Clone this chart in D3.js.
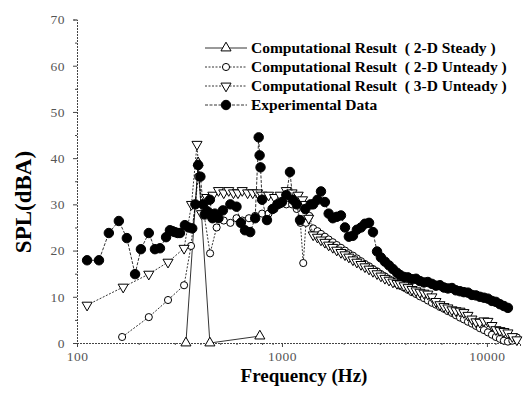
<!DOCTYPE html>
<html>
<head>
<meta charset="utf-8">
<script src="https://cdn.jsdelivr.net/npm/d3@7"></script>
<style>
  body { margin: 0; background: #fff; }
  svg { display: block; }
  .legend-text { white-space: pre; }
</style>
</head>
<body>
<svg id="chart" width="524" height="399"></svg>
<script>
// ---- data ----
const yTicks = [0, 10, 20, 30, 40, 50, 60, 70];
const yMinorTicks = [5, 15, 25, 35, 45, 55, 65];
const xTicks = [100, 1000, 10000];
const xMinorTicks = [200, 300, 400, 500, 600, 700, 800, 900, 2000, 3000, 4000, 5000, 6000, 7000, 8000, 9000, 11000, 12000, 13000, 14000];

const seriesNames = [
  'Computational Result  ( 2-D Steady )',
  'Computational Result  ( 2-D Unteady )',
  'Computational Result  ( 3-D Unteady )',
  'Experimental Data'
];

// 2-D steady
const steadyFreq = [340, 390, 445, 780];
const steadyVal = [0, 39, 0, 1.5];

// low-frequency parts
const lowExpFreq = [112, 128, 143, 160, 175, 192, 205, 224, 240, 254, 272, 284, 292, 300, 310, 318, 336, 350, 365, 378,
  390, 400, 412, 420, 432, 445, 458, 470, 490, 515, 560, 600, 630, 660, 700, 740, 770, 778, 786, 800,
  845, 900, 950, 1000, 1050, 1094, 1130, 1180, 1225, 1300, 1380];
const lowExpVal = [17.9, 17.9, 23.8, 26.4, 22.7, 14.9, 20.3, 23.8, 20.3, 20.5, 22.9, 24.4, 24.2, 24, 23.8, 23.8, 25.5, 25, 24.8, 30,
  38.5, 36, 30, 27.8, 28.5, 31, 27, 28, 27, 28.7, 30, 29.5, 26, 24.4, 24, 27, 44.5, 40.6, 38, 31,
  26.6, 29, 30, 30.5, 32, 37, 31, 30, 26.6, 29, 30];

const low2DFreq = [166, 224, 278, 333, 360, 390, 446, 480, 520, 560, 600, 640, 690, 740, 800, 860, 920, 980, 1050, 1120,
  1180, 1230, 1270, 1310, 1360];
const low2DVal = [1.3, 5.6, 9.3, 12.5, 21, 36, 19.4, 25, 26.5, 26, 27, 26.5, 27, 27.5, 28, 28, 29, 30, 30, 30,
  29, 26, 17.3, 26, 27.5];

const low3DFreq = [112, 168, 224, 278, 333, 362, 385, 405, 430, 460, 490, 520, 550, 580, 610, 640, 680, 720, 760, 800,
  860, 920, 980, 1050, 1120, 1200, 1260, 1300, 1350];
const low3DVal = [8.2, 12.1, 14.9, 17.5, 20.5, 30, 43, 28, 31.5, 32, 33, 32.5, 33, 32.5, 32.5, 33, 32.5, 32.5, 32.5, 32,
  32, 31.5, 32, 33, 32.5, 32, 31, 30, 27];

// mid band 1.4 - 3.6 kHz
const midFreq = [1420, 1490, 1550, 1620, 1690, 1770, 1850, 1940, 2030, 2120, 2220, 2320, 2430, 2540, 2660, 2780, 2910, 3040, 3180, 3330, 3480, 3640];
const midExpVal = [30, 31, 32.8, 30.5, 28, 27, 27.3, 27.6, 25, 23, 23.2, 24.5, 25, 25.8, 26, 24, 19.8, 18.5, 17.6, 16.8, 16, 15.2];
const mid2DVal = [24.8, 24.2, 23.6, 23.0, 22.4, 21.8, 21.2, 20.6, 20.0, 19.4, 18.9, 18.3, 17.7, 17.1, 16.6, 16.0, 15.5, 14.9, 14.4, 13.8, 13.3, 12.8];
const mid3DVal = [23.4, 22.9, 22.3, 21.8, 21.2, 20.7, 20.1, 19.6, 19.1, 18.6, 18.0, 17.5, 17.0, 16.5, 16.0, 15.5, 15.0, 14.5, 14.0, 13.6, 13.2, 12.9];

// high band 3.8 - 12.7 kHz
const hiFreq = [3770, 3940, 4120, 4310, 4510, 4710, 4930, 5150, 5390, 5640, 5900, 6170, 6450, 6750, 7060, 7390, 7720, 8080, 8450, 8840,
  9240, 9670, 10110, 10580, 11060, 11570, 12100, 12660];
const hiExpVal = [14.7, 14.3, 14.2, 13.8, 13.9, 13.4, 13.1, 13.2, 12.8, 12.4, 12.5, 12.0, 11.8, 11.9, 11.4, 11.2, 11.0, 10.9, 10.4, 10.3,
  10.0, 9.8, 9.6, 9.1, 8.9, 8.4, 8.0, 7.6];
const hi2DVal = [12.4, 12.0, 11.5, 11.0, 10.6, 10.1, 9.7, 9.2, 8.7, 8.3, 7.8, 7.4, 6.9, 6.5, 6.0, 5.5, 5.1, 4.6, 4.2, 3.7,
  3.2, 2.8, 2.3, 1.8, 1.3, 0.9, 0.5, 0.3];
const hi3DVal = [12.8, 12.4, 12.0, 11.6, 11.3, 11.0, 10.8, 10.6, 10.0, 9.0, 8.3, 7.9, 7.6, 7.2, 7.0, 6.9, 6.6, 6.0, 5.2, 4.6,
  4.5, 4.8, 4.7, 3.8, 2.9, 2.7, 2.5, 2.2];

const tailFreq = [13300, 14000];
const tail2DVal = [0.5, 1.2];
const tail3DVal = [1.4, 0.7];

// ---- build series ----
const zip = (f, v) => f.map((d, i) => ({ f: d, v: v[i] }));

const series = [
  { name: seriesNames[0], sym: 'up', fill: '#fff', dash: null,
    pts: zip(steadyFreq, steadyVal) },
  { name: seriesNames[1], sym: 'circle', fill: '#fff', dash: '2,1.5',
    pts: [...zip(low2DFreq, low2DVal), ...zip(midFreq, mid2DVal), ...zip(hiFreq, hi2DVal), ...zip(tailFreq, tail2DVal)] },
  { name: seriesNames[2], sym: 'down', fill: '#fff', dash: '2,1.5',
    pts: [...zip(low3DFreq, low3DVal), ...zip(midFreq, mid3DVal), ...zip(hiFreq, hi3DVal), ...zip(tailFreq, tail3DVal)] },
  { name: seriesNames[3], sym: 'dot', fill: '#000', dash: '3,1.5',
    pts: [...zip(lowExpFreq, lowExpVal), ...zip(midFreq, midExpVal), ...zip(hiFreq, hiExpVal)] }
];

// ---- layout ----
const svg = d3.select('#chart');
svg.append('rect').attr('width', 524).attr('height', 399).attr('fill', '#fff');

const x = d3.scaleLog().domain([100, 14500]).range([77, 520]);
const y = d3.scaleLinear().domain([0, 70]).range([343, 19.5]);

const serif = '"Liberation Serif", "Times New Roman", serif';

function symbolPath(sym) {
  if (sym === 'circle') return d3.symbol(d3.symbolCircle, 40)();
  if (sym === 'dot') return d3.symbol(d3.symbolCircle, 70)();
  return d3.symbol(d3.symbolTriangle, 44)();
}

function drawMarker(g, s, cx, cy) {
  g.append('path')
    .attr('d', symbolPath(s.sym))
    .attr('transform', `translate(${cx},${cy})${s.sym === 'down' ? ' rotate(180)' : ''}`)
    .attr('fill', s.fill)
    .attr('stroke', '#000')
    .attr('stroke-width', 1);
}

// axes
svg.append('g')
  .attr('transform', `translate(${x.range()[0]},0)`)
  .call(d3.axisLeft(y).tickValues(yTicks).tickSize(4).tickPadding(8));
svg.append('g')
  .attr('transform', `translate(${x.range()[0]},0)`)
  .call(d3.axisLeft(y).tickValues(yMinorTicks).tickSize(2).tickFormat(''))
  .call(g => g.select('.domain').remove());

svg.append('g')
  .attr('transform', `translate(0,${y(0)})`)
  .call(d3.axisBottom(x).tickValues(xTicks).tickFormat(d3.format('d')).tickSize(4).tickPadding(4));
svg.append('g')
  .attr('transform', `translate(0,${y(0)})`)
  .call(d3.axisBottom(x).tickValues(xMinorTicks).tickSize(2).tickFormat(''))
  .call(g => g.select('.domain').remove());

svg.selectAll('.domain')
  .attr('stroke', '#444')
  .attr('stroke-dasharray', '2,1');
svg.selectAll('.tick line').attr('stroke', '#444');
svg.selectAll('.tick text')
  .attr('font-family', serif)
  .attr('font-size', 13.5)
  .attr('letter-spacing', 0.5)
  .attr('fill', '#555');

// axis titles
svg.append('text')
  .attr('transform', 'translate(31,202) rotate(-90)')
  .attr('text-anchor', 'middle')
  .attr('font-family', serif)
  .attr('font-weight', 'bold')
  .attr('font-size', 23)
  .text('SPL(dBA)');

svg.append('text')
  .attr('x', 304)
  .attr('y', 382)
  .attr('text-anchor', 'middle')
  .attr('font-family', serif)
  .attr('font-weight', 'bold')
  .attr('font-size', 19)
  .text('Frequency (Hz)');

// series
const line = d3.line().x(d => x(d.f)).y(d => y(d.v));
const plot = svg.append('g');
series.forEach(s => {
  const g = plot.append('g');
  g.append('path')
    .datum(s.pts)
    .attr('d', line)
    .attr('fill', 'none')
    .attr('stroke', '#000')
    .attr('stroke-width', 0.8)
    .attr('stroke-dasharray', s.dash);
  s.pts.forEach(p => drawMarker(g, s, x(p.f), y(p.v)));
});

// legend
const legend = svg.append('g');
series.forEach((s, i) => {
  const ly = 48 + i * 19;
  const g = legend.append('g');
  g.append('line')
    .attr('x1', 205).attr('x2', 247)
    .attr('y1', ly).attr('y2', ly)
    .attr('stroke', '#000')
    .attr('stroke-width', 0.8)
    .attr('stroke-dasharray', s.dash);
  drawMarker(g, s, 226, ly);
  g.append('text')
    .attr('class', 'legend-text')
    .attr('x', 251)
    .attr('y', ly)
    .attr('dy', '0.35em')
    .attr('font-family', serif)
    .attr('font-weight', 'bold')
    .attr('font-size', 15.5)
    .text(s.name);
});
</script>
</body>
</html>
